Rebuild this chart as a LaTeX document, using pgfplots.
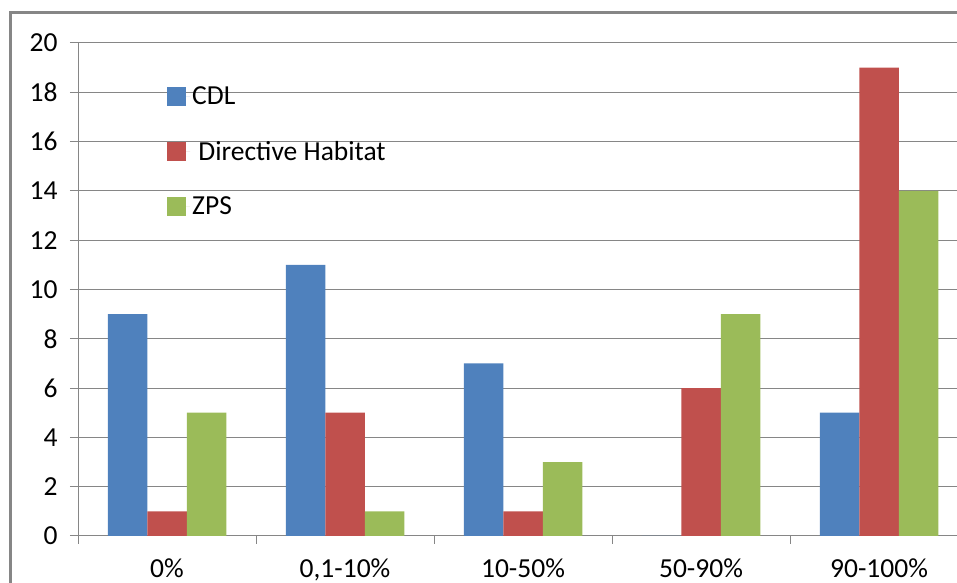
\documentclass[border=0pt]{standalone}
\usepackage{pgfplots}
\pgfplotsset{compat=1.18}
\usepackage{fontspec}
\setmainfont{Carlito}

\definecolor{cdl}{RGB}{79,129,189}
\definecolor{dhab}{RGB}{192,80,77}
\definecolor{zps}{RGB}{155,187,89}
\definecolor{frame}{RGB}{134,134,134}

\begin{document}
\begin{tikzpicture}[x=1bp,y=1bp]
\useasboundingbox (0,0) rectangle (957,583);
\clip (0,0) rectangle (957,583);
% outer chart frame
\draw[frame, line width=3bp] (10,-20) -- (10,570) -- (1000,570);
\begin{axis}[
  at={(78bp,47bp)}, anchor=south west,
  scale only axis, width=890bp, height=493bp,
  ybar=0pt, bar width=39.5bp,
  xmin=-0.5, xmax=4.5, ymin=0, ymax=20,
  axis x line*=bottom, axis y line*=left,
  axis line style={frame, line width=1bp},
  ymajorgrids, grid style={frame, line width=1bp},
  ytick={0,2,...,20},
  xtick={-0.5,0.5,1.5,2.5,3.5,4.5},
  xticklabels={0\%,{0,1-10\%},10-50\%,50-90\%,90-100\%},
  x tick label as interval,
  tick align=outside, major tick length=8bp,
  tick style={frame, line width=1bp},
  /pgf/number format/assume math mode=true,
  ticklabel style={font=\fontsize{27.5bp}{32bp}\selectfont, text=black},
  yticklabel style={xshift=-9bp},
  xticklabel style={yshift=-11bp},
  legend style={draw=none, fill=none, at={(0.0967,0.92)}, anchor=north west,
    font=\fontsize{27.5bp}{32bp}\selectfont, row sep=31bp,
    legend cell align=left},
  legend image code/.code={%
    \fill[#1] (0bp,-9.5bp) rectangle (19bp,9.5bp);
    \path (19bp,0bp) -- (23bp,0bp);},
]
\addplot[fill=cdl, draw=none] coordinates {(0,9) (1,11) (2,7) (3,0) (4,5)};
\addplot[fill=dhab, draw=none] coordinates {(0,1) (1,5) (2,1) (3,6) (4,19)};
\addplot[fill=zps, draw=none] coordinates {(0,5) (1,1) (2,3) (3,9) (4,14)};
\legend{CDL,\ Directive Habitat,ZPS}
\end{axis}
\end{tikzpicture}
\end{document}
